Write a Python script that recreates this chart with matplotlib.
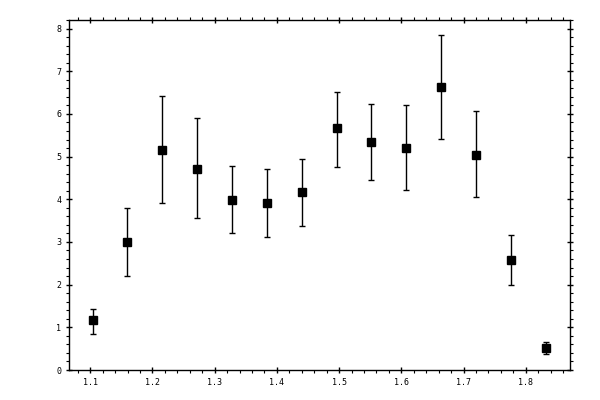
import matplotlib
matplotlib.use("Agg")
import matplotlib.pyplot as plt
from matplotlib.ticker import MultipleLocator
import numpy as np

x = [1.104, 1.159, 1.216, 1.272, 1.328, 1.384, 1.440, 1.496, 1.552, 1.608, 1.663, 1.720, 1.776, 1.832]
y = [1.16, 3.01, 5.16, 4.72, 3.99, 3.92, 4.18, 5.66, 5.35, 5.21, 6.64, 5.04, 2.58, 0.52]
y_hi = [1.43, 3.80, 6.43, 5.90, 4.78, 4.72, 4.95, 6.52, 6.24, 6.21, 7.84, 6.06, 3.17, 0.66]
y_lo = [0.85, 2.21, 3.92, 3.55, 3.22, 3.12, 3.38, 4.76, 4.46, 4.22, 5.42, 4.06, 2.00, 0.38]

x_ticks = [1.1, 1.2, 1.3, 1.4, 1.5, 1.6, 1.7, 1.8]
y_ticks = [0, 1, 2, 3, 4, 5, 6, 7, 8]

yv = np.array(y)
err = [yv - np.array(y_lo), np.array(y_hi) - yv]

fig = plt.figure(figsize=(6, 4), dpi=100)
ax = fig.add_axes([0.115, 0.075, 0.835, 0.876])
ax.errorbar(x, y, yerr=err, fmt='s', color='black', ms=5.5, elinewidth=1.0,
            capsize=2.2, capthick=1.0, ecolor='black')
ax.set_xlim(1.066, 1.871)
ax.set_ylim(0, 8.21)
ax.xaxis.set_major_locator(MultipleLocator(0.1))
ax.xaxis.set_minor_locator(MultipleLocator(0.02))
ax.yaxis.set_major_locator(MultipleLocator(1))
ax.yaxis.set_minor_locator(MultipleLocator(0.2))
ax.set_xticks(x_ticks)
ax.set_xticklabels([f"{t:.1f}" for t in x_ticks])
ax.set_yticks(y_ticks)
ax.set_yticklabels([str(t) for t in y_ticks])
for s in ax.spines.values():
    s.set_linewidth(1.0)
ax.tick_params(which='major', direction='inout', length=5, width=1.0,
               top=True, right=True, labelsize=6, pad=3)
ax.tick_params(which='minor', direction='out', length=2.5, width=0.8,
               top=True, right=True)
for lab in ax.get_xticklabels() + ax.get_yticklabels():
    lab.set_family('DejaVu Sans Mono')
fig.savefig("out.png", dpi=100)
